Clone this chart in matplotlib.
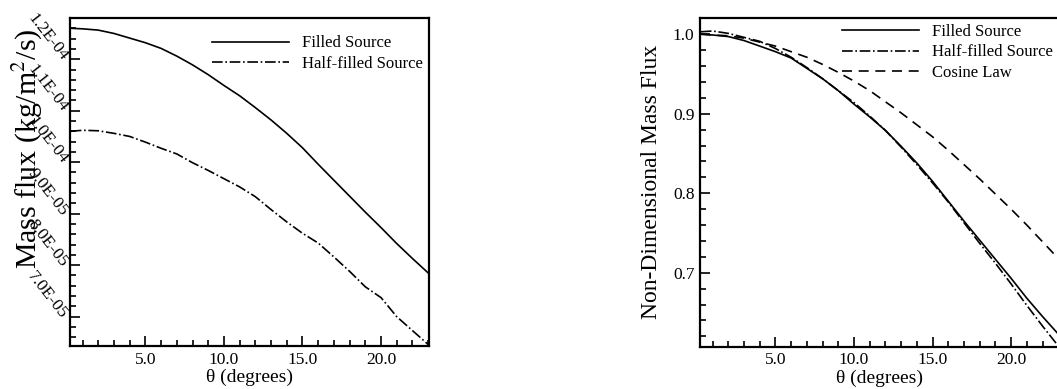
"""
Mass flux vs. polar angle for filled and half-filled sources,
raw (left) and normalised against a cosine law (right).
"""
import matplotlib
matplotlib.use("Agg")
import matplotlib.pyplot as plt
from matplotlib.ticker import MultipleLocator, FixedLocator, FuncFormatter

plt.rcParams["font.family"] = ["Liberation Serif", "DejaVu Serif"]
plt.rcParams["mathtext.fontset"] = "stix"

# angles (degrees) at which the curves were read
theta = [0.25, 1, 2, 3, 4, 5, 6, 7, 8, 9, 10, 11, 12,
         13, 14, 15, 16, 17, 18, 19, 20, 21, 22, 23]

# mass flux, units of 1e-6 kg/m^2/s
filled_flux = [126.0, 125.9, 125.65, 125.0, 124.1, 123.2, 122.1, 120.6,
               118.9, 117.0, 114.9, 112.9, 110.6, 108.2, 105.6, 102.8,
               99.6, 96.5, 93.4, 90.3, 87.3, 84.2, 81.3, 78.5]
half_flux = [106.0, 106.2, 106.1, 105.6, 105.0, 103.9, 102.7, 101.6,
             99.9, 98.4, 96.8, 95.2, 93.3, 90.8, 88.4, 86.2,
             84.3, 81.6, 78.8, 75.8, 73.7, 70.0, 67.3, 64.6]

# non-dimensional mass flux
filled_nd = [1.000, 0.999, 0.997, 0.992, 0.985, 0.978, 0.970, 0.957,
             0.944, 0.929, 0.912, 0.896, 0.879, 0.859, 0.838, 0.815,
             0.790, 0.765, 0.741, 0.717, 0.693, 0.668, 0.645, 0.623]
half_nd = [1.003, 1.004, 1.001, 0.996, 0.991, 0.982, 0.971, 0.958,
           0.944, 0.929, 0.914, 0.897, 0.879, 0.858, 0.836, 0.813,
           0.789, 0.763, 0.737, 0.712, 0.686, 0.659, 0.633, 0.608]
cosine_nd = [1.000, 0.999, 0.998, 0.995, 0.990, 0.985, 0.978, 0.971,
             0.962, 0.952, 0.941, 0.929, 0.915, 0.901, 0.886, 0.871,
             0.854, 0.836, 0.818, 0.799, 0.780, 0.760, 0.739, 0.718]

flux_ticks = [7.0e-5, 8.0e-5, 9.0e-5, 1.0e-4, 1.1e-4, 1.2e-4]

LW = 1.2
FS = 12.5


def style_axes(ax):
    for side in ("left", "bottom", "top", "right"):
        ax.spines[side].set_linewidth(1.6)
    ax.tick_params(which="both", direction="in", top=False, right=False,
                   width=1.2, labelsize=FS, pad=4)
    ax.tick_params(which="major", length=7)
    ax.tick_params(which="minor", length=4)
    ax.xaxis.set_major_locator(MultipleLocator(5))
    ax.xaxis.set_minor_locator(MultipleLocator(1))
    ax.xaxis.set_major_formatter(FuncFormatter(lambda v, p: f"{v:.1f}"))
    ax.set_xlim(0.2, 23.05)
    ax.set_xlabel("θ (degrees)", fontsize=14, labelpad=1)


fig = plt.figure(figsize=(10.57, 3.89), dpi=100)
ax1 = fig.add_axes([0.0662, 0.1105, 0.3396, 0.8432])
ax2 = fig.add_axes([0.6623, 0.1087, 0.3396, 0.8443])

# left: raw mass flux
ax1.plot(theta, [v * 1e-6 for v in filled_flux], "k-", lw=LW, label="Filled Source")
ax1.plot(theta, [v * 1e-6 for v in half_flux], "k-.", lw=LW, label="Half-filled Source")
style_axes(ax1)
ax1.set_ylim(6.43e-5, 1.28e-4)
ax1.yaxis.set_major_locator(FixedLocator(flux_ticks))
ax1.yaxis.set_minor_locator(MultipleLocator(2e-6))
ax1.set_yticklabels([f"{v:.1E}" for v in flux_ticks],
                    rotation=-52, ha="right", va="center", rotation_mode="anchor")
ax1.tick_params(axis="y", pad=4)
ax1.set_ylabel("Mass flux (kg/m$^2$/s)", fontsize=21.5)
ax1.yaxis.set_label_coords(-0.07, 0.6)
ax1.legend(loc="upper left", bbox_to_anchor=(0.396, 0.947), frameon=False,
           handlelength=4.6, handletextpad=0.8, labelspacing=0.25,
           borderpad=0, borderaxespad=0, fontsize=12)

# right: non-dimensional mass flux
ax2.plot(theta, filled_nd, "k-", lw=LW, label="Filled Source")
ax2.plot(theta, half_nd, "k-.", lw=LW, label="Half-filled Source")
ax2.plot(theta, cosine_nd, "k--", lw=LW, dashes=(6, 4), label="Cosine Law")
style_axes(ax2)
ax2.set_ylim(0.607, 1.02)
ax2.yaxis.set_major_locator(MultipleLocator(0.1))
ax2.yaxis.set_minor_locator(MultipleLocator(0.02))
ax2.yaxis.set_major_formatter(FuncFormatter(lambda v, p: f"{v:.1f}"))
ax2.set_ylabel("Non-Dimensional Mass Flux", fontsize=17)
ax2.yaxis.set_label_coords(-0.106, 0.502)
ax2.legend(loc="upper left", bbox_to_anchor=(0.396, 0.982), frameon=False,
           handlelength=4.6, handletextpad=0.8, labelspacing=0.25,
           borderpad=0, borderaxespad=0, fontsize=12)

fig.savefig("out.png", dpi=100)
